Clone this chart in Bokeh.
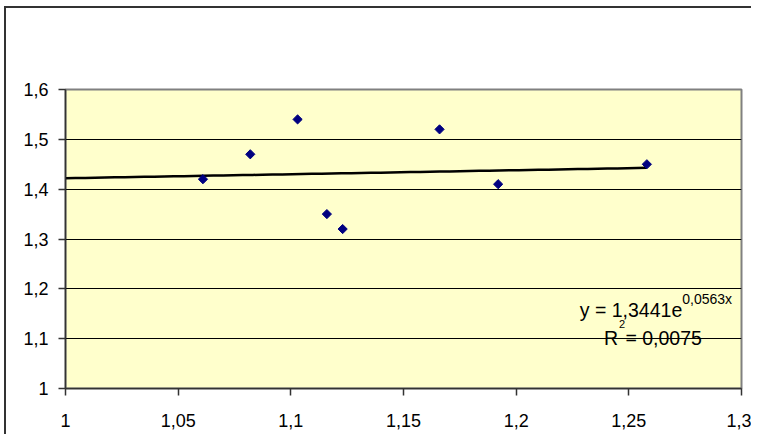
import numpy as np
from bokeh.plotting import figure
from bokeh.models import FixedTicker, Label, Range1d
from bokeh.embed import file_html
from bokeh.resources import INLINE

# data
x_vals = [1.061, 1.082, 1.103, 1.116, 1.123, 1.166, 1.192, 1.258]
y_vals = [1.42, 1.47, 1.54, 1.35, 1.32, 1.52, 1.41, 1.45]

# exponential trendline y = a * e^(b x)
trend_a = 1.3441
trend_b = 0.0563
trend_start = 1.0

x_ticks = [1.0, 1.05, 1.1, 1.15, 1.2, 1.25, 1.3]
x_tick_labels = ["1", "1,05", "1,1", "1,15", "1,2", "1,25", "1,3"]
y_ticks = [1.0, 1.1, 1.2, 1.3, 1.4, 1.5, 1.6]
y_tick_labels = ["1", "1,1", "1,2", "1,3", "1,4", "1,5", "1,6"]

eq_main = "y = 1,3441e"
eq_exp = "0,0563x"
r2_main = "R"
r2_sup = "2"
r2_rest = " = 0,0075"

FONT = "Liberation Sans"

p = figure(width=747, height=428, output_backend="svg", toolbar_location=None,
           x_range=Range1d(1.0, 1.3), y_range=Range1d(1.0, 1.6),
           min_border_left=59, min_border_right=12, min_border_top=81, min_border_bottom=48)
p.styles = {"border-top": "2px solid #333333", "border-left": "2px solid #333333",
            "margin-left": "4px", "margin-top": "6px"}

p.background_fill_color = "#FFFFCC"
p.border_fill_color = "white"
p.outline_line_color = "#808080"
p.outline_line_width = 2

# grid
p.xgrid.visible = False
p.ygrid.ticker = FixedTicker(ticks=y_ticks)
p.ygrid.grid_line_color = "black"
p.ygrid.grid_line_width = 1

for ax, ticks, labels in ((p.xaxis[0], x_ticks, x_tick_labels), (p.yaxis[0], y_ticks, y_tick_labels)):
    ax.ticker = FixedTicker(ticks=ticks)
    ax.major_label_overrides = {t: l for t, l in zip(ticks, labels)}
    ax.major_label_text_font = FONT
    ax.major_label_text_font_size = "18px"
    ax.major_label_text_color = "black"
    ax.axis_line_color = "#333333"
    ax.axis_line_width = 1.5
    ax.major_tick_line_color = "#333333"
    ax.major_tick_line_width = 1.5
    ax.major_tick_in = 0
    ax.major_tick_out = 7
    ax.minor_tick_line_color = None
p.xaxis.major_label_standoff = 18
p.yaxis.major_label_standoff = 10

# trendline
tx = np.linspace(trend_start, max(x_vals), 60)
ty = trend_a * np.exp(trend_b * tx)
p.line(tx, ty, line_color="black", line_width=2.5)

# points
p.scatter(x_vals, y_vals, marker="square", angle=np.pi / 4, size=6.5,
          fill_color="#000080", line_color="#000080")

# equation labels
common = dict(text_font=FONT, text_color="black", text_baseline="alphabetic")
p.add_layout(Label(x=1.2737, y=1.1585, text=eq_main, text_align="right", text_font_size="19.5px", **common))
p.add_layout(Label(x=1.2737, y=1.1806, text=eq_exp, text_align="left", text_font_size="14px", **common))
p.add_layout(Label(x=1.2452, y=1.1023, text=r2_main, text_align="right", text_font_size="19.5px", **common))
p.add_layout(Label(x=1.2456, y=1.1290, text=r2_sup, text_align="left", text_font_size="11px", **common))
p.add_layout(Label(x=1.2485, y=1.1023, text=r2_rest, text_align="left", text_font_size="19.5px", **common))

open("out.html", "w").write(file_html(p, INLINE))
